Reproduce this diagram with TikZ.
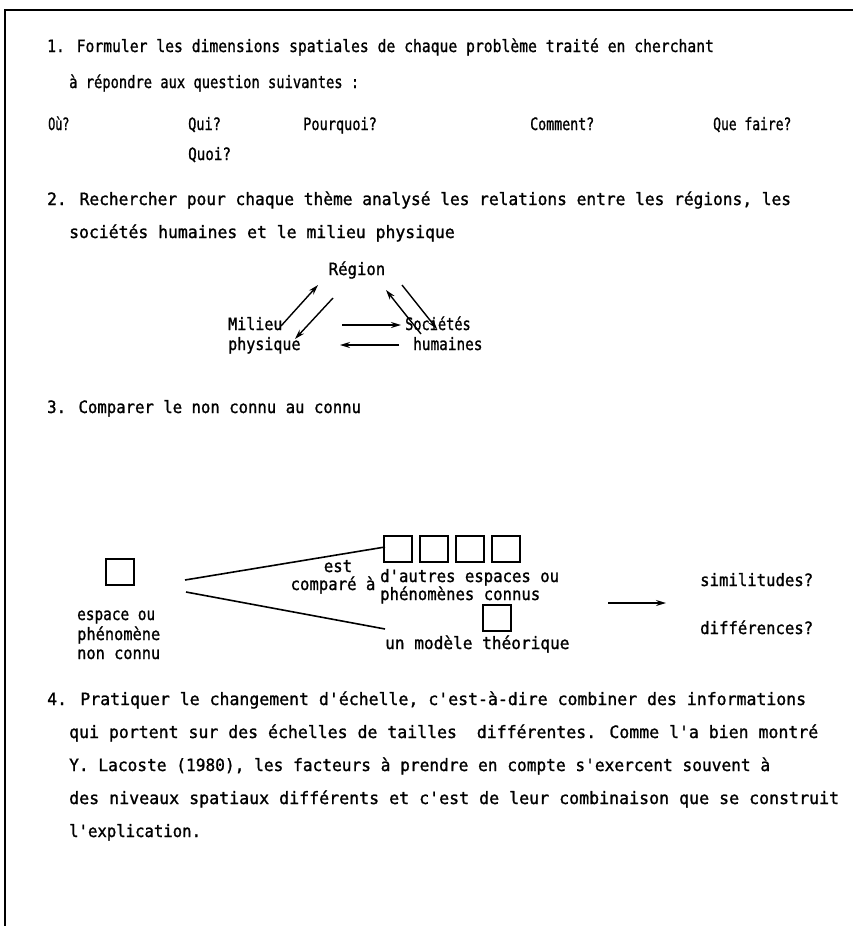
\documentclass[tikz,border=0pt]{standalone}
\usepackage{graphicx}
\usepackage{fontspec}
\newfontfamily\typefont{DejaVu Sans Mono}[FakeStretch=0.92,FakeBold=1.2]
\newcommand\wid[2]{\scalebox{#1}[1]{#2}}
\usetikzlibrary{arrows.meta}
\begin{document}
\begin{tikzpicture}[x=1pt,y=-1pt,
  txt/.style={anchor=base west,inner sep=0pt,font=\typefont\fontsize{17}{20}\selectfont},
  ctxt/.style={anchor=base,inner sep=0pt,font=\typefont\fontsize{17}{20}\selectfont},
  sq/.style={draw,line width=1.3pt,minimum width=28pt,minimum height=26pt,inner sep=0pt},
  arr/.style={line width=1.4pt,-{Stealth[length=10pt,width=6pt]}},
  ln/.style={line width=1.6pt}]
\useasboundingbox (0,0) rectangle (853,926);
% frame: top and left rules
\coordinate (tl) at (5,10);
\coordinate (tr) at (853,10);
\coordinate (bl) at (5,926);
\draw[line width=1.2pt] (tr) -- (tl) -- (bl);

% item 1
\node[txt] (l1a) at (47,52) {\wid{0.94}{1. Formuler les dimensions spatiales de chaque problème traité en cherchant}};
\node[txt] (l1b) at (69,88) {\wid{0.88}{à répondre aux question suivantes :}};
\node[txt] (qou) at (48,130) {\wid{0.75}{Où?}};
\node[txt] (qqui) at (188,130) {\wid{0.87}{Qui?}};
\node[txt] (qpq) at (303,130) {\wid{0.87}{Pourquoi?}};
\node[txt] (qcom) at (530,130) {\wid{0.85}{Comment?}};
\node[txt] (qqf) at (713,130) {\wid{0.83}{Que faire?}};
\node[txt] (qquoi) at (188,160) {\wid{0.91}{Quoi?}};

% item 2
\node[txt] (l2a) at (47,205) {\wid{1.035}{2. Rechercher pour chaque thème analysé les relations entre les régions, les}};
\node[txt] (l2b) at (69,238) {\wid{1.05}{sociétés humaines et le milieu physique}};
\node[ctxt] (reg) at (357,275) {Région};
\node[txt] (mil) at (228,330) {\wid{0.96}{Milieu}};
\node[txt] (mil2) at (228,350) {\wid{0.96}{physique}};
\node[txt] (soc) at (405,330) {\wid{0.87}{Sociétés}};
\node[txt] (soc2) at (413,350) {\wid{0.92}{humaines}};

% relations between the three poles
\coordinate (a1s) at (281,326); \coordinate (a1e) at (318,285);
\coordinate (a2s) at (333,298); \coordinate (a2e) at (295,339);
\coordinate (a3s) at (421,334); \coordinate (a3e) at (386,290);
\coordinate (a4s) at (402,285); \coordinate (a4e) at (437,329);
\draw[arr] (a1s) -- (a1e);
\draw[arr] (a2s) -- (a2e);
\draw[arr] (a3s) -- (a3e);
\draw[arr] (a4s) -- (a4e);
\coordinate (h1s) at (342,325); \coordinate (h1e) at (401,325);
\coordinate (h2s) at (399,345); \coordinate (h2e) at (340,345);
\draw[arr] (h1s) -- (h1e);
\draw[arr] (h2s) -- (h2e);

% item 3
\node[txt] (l3) at (47,413) {3. Comparer le non connu au connu};
\node[sq] (b0) at (120,572) {};
\node[txt] (unk1) at (77,620) {\wid{0.92}{espace ou}};
\node[txt] (unk2) at (77,640) {\wid{0.98}{phénomène}};
\node[txt] (unk3) at (77,659) {\wid{0.98}{non connu}};
\node[sq] (b1) at (398,549) {};
\node[sq] (b2) at (434,549) {};
\node[sq] (b3) at (470,549) {};
\node[sq] (b4) at (506,549) {};
\node[txt] (kn1) at (380,582) {d'autres espaces ou};
\node[txt] (kn2) at (380,600) {phénomènes connus};
\node[sq] (b5) at (497,618) {};
\node[txt] (mod) at (385,649) {\wid{1.03}{un modèle théorique}};
\node[ctxt] (est) at (338,572) {est};
\node[ctxt] (cmp) at (333,590) {comparé à};
\coordinate (u0) at (185,580); \coordinate (u1) at (385,547);
\coordinate (d0) at (186,592); \coordinate (d1) at (385,629);
\draw[ln] (u0) -- (u1);
\draw[ln] (d0) -- (d1);
\coordinate (r0) at (608,603); \coordinate (r1) at (666,603);
\draw[arr] (r0) -- (r1);
\node[txt] (sim) at (700,586) {similitudes?};
\node[txt] (dif) at (700,634) {différences?};

% item 4
\node[txt] (l4a) at (47,705) {\wid{1.056}{4. Pratiquer le changement d'échelle, c'est-à-dire combiner des informations}};
\node[txt] (l4b) at (69,738) {\wid{1.056}{qui portent sur des échelles de tailles\ \ différentes. Comme l'a bien montré}};
\node[txt] (l4c) at (69,771) {\wid{1.034}{Y. Lacoste (1980), les facteurs à prendre en compte s'exercent souvent à}};
\node[txt] (l4d) at (69,804) {\wid{1.062}{des niveaux spatiaux différents et c'est de leur combinaison que se construit}};
\node[txt] (l4e) at (69,837) {l'explication.};
\end{tikzpicture}
\end{document}
